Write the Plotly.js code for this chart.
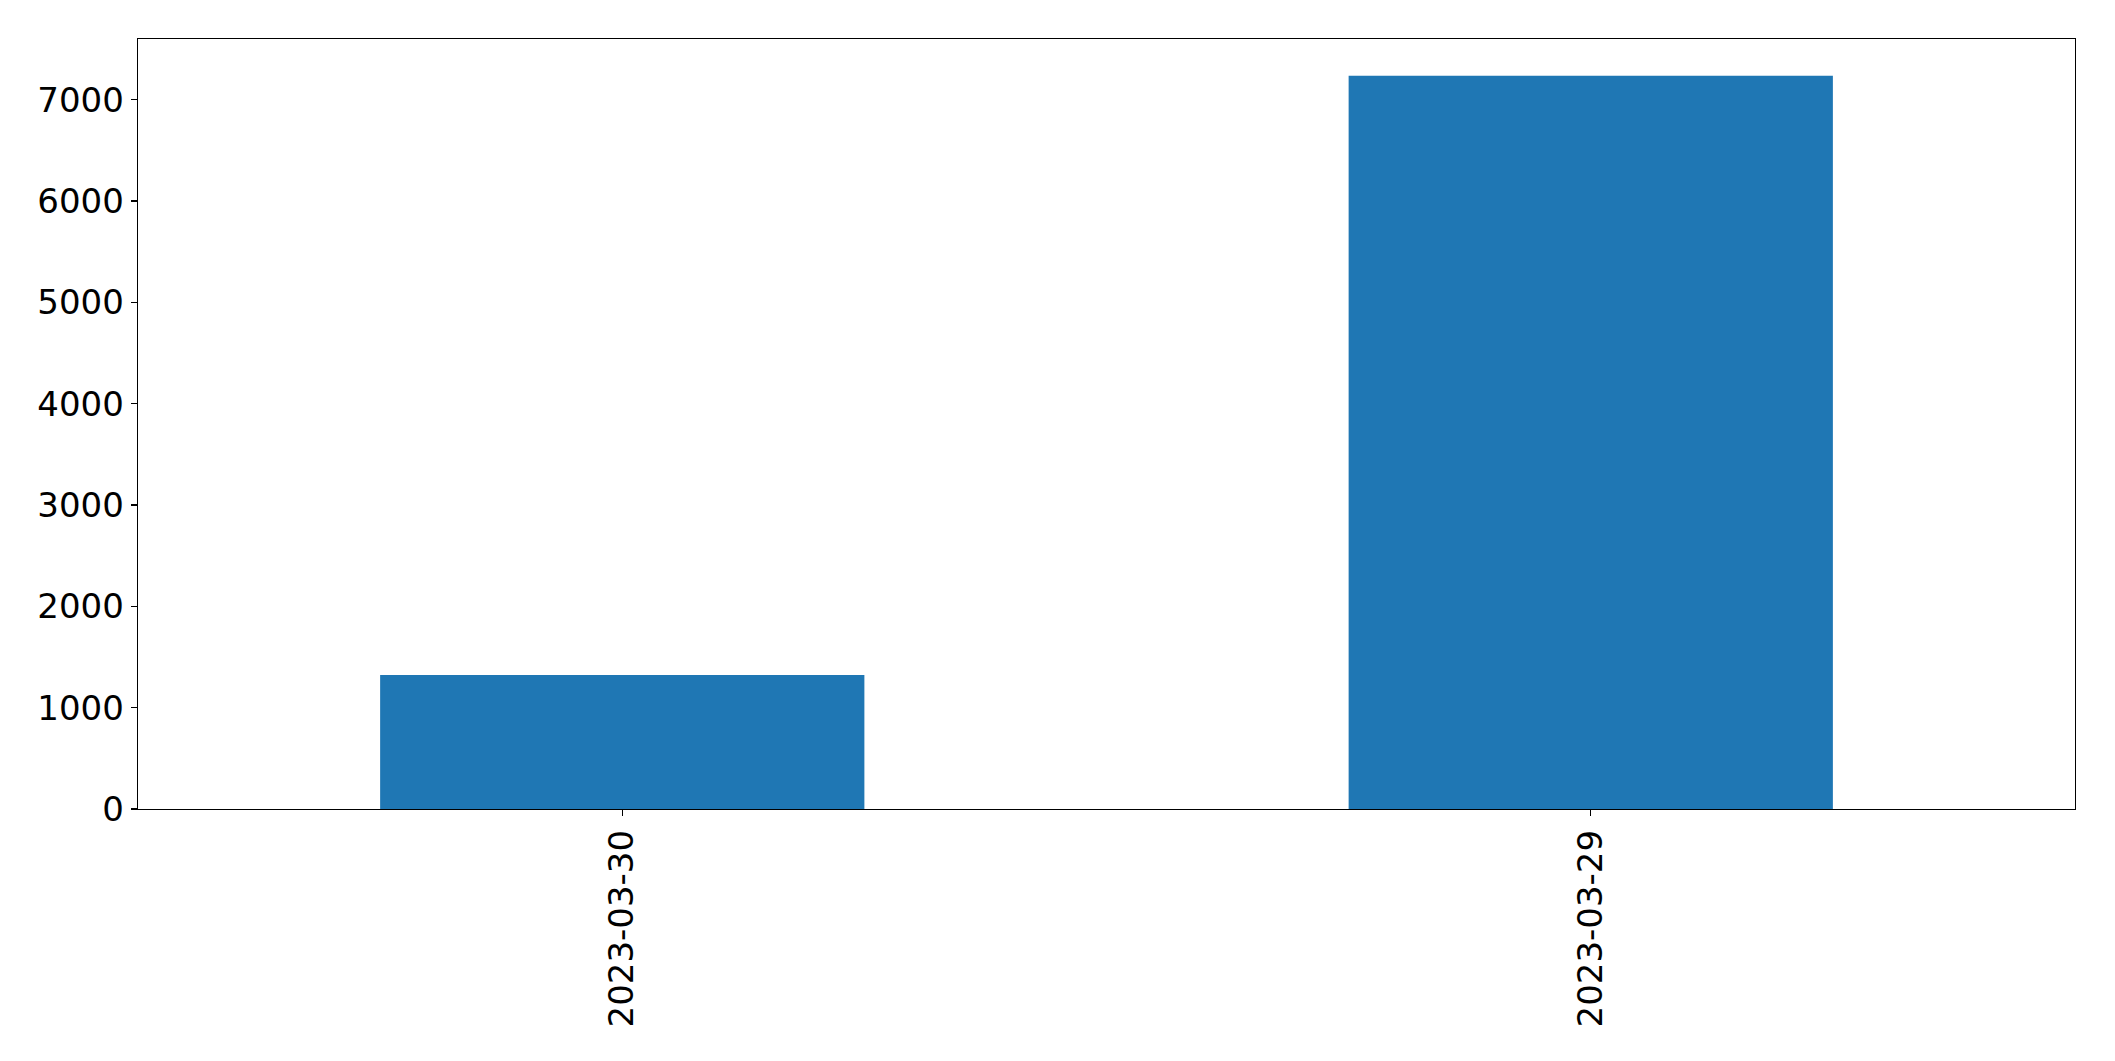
<!DOCTYPE html>
<html>
<head>
<meta charset="utf-8">
<script src="https://cdn.plot.ly/plotly-3.0.1.min.js"></script>
<style>
  html, body { margin: 0; padding: 0; background: #fff; }
  #chart { width: 2115px; height: 1061px; }
</style>
</head>
<body>
<div id="chart"></div>
<script>
const categories = ["2023-03-30", "2023-03-29"];
const values = [1323, 7235];
const yTickValues = [0, 1000, 2000, 3000, 4000, 5000, 6000, 7000];

const trace = {
  type: "bar",
  x: categories,
  y: values,
  width: 0.5,
  marker: { color: "#1f77b4", line: { width: 0 } },
  hoverinfo: "x+y"
};

const axisFont = { family: "DejaVu Sans, sans-serif", size: 34, color: "#000" };

const layout = {
  width: 2115,
  height: 1061,
  margin: { l: 138, r: 40, t: 39, b: 252, pad: 0 },
  paper_bgcolor: "#fff",
  plot_bgcolor: "#fff",
  showlegend: false,
  bargap: 0.5,
  xaxis: {
    type: "category",
    range: [-0.5, 1.5],
    tickangle: -90,
    ticks: "outside",
    ticklen: 6,
    tickwidth: 1.3,
    tickcolor: "#000",
    tickfont: axisFont,
    showline: true,
    linecolor: "#000",
    linewidth: 1.3,
    mirror: true,
    showgrid: false,
    zeroline: false
  },
  yaxis: {
    range: [0, 7598],
    tickmode: "array",
    tickvals: yTickValues,
    ticktext: yTickValues.map(String),
    ticks: "outside",
    ticklen: 6,
    tickwidth: 1.3,
    tickcolor: "#000",
    tickfont: axisFont,
    showline: true,
    linecolor: "#000",
    linewidth: 1.3,
    mirror: true,
    showgrid: false,
    zeroline: false
  }
};

Plotly.newPlot("chart", [trace], layout, { displayModeBar: false, staticPlot: true });
</script>
</body>
</html>
